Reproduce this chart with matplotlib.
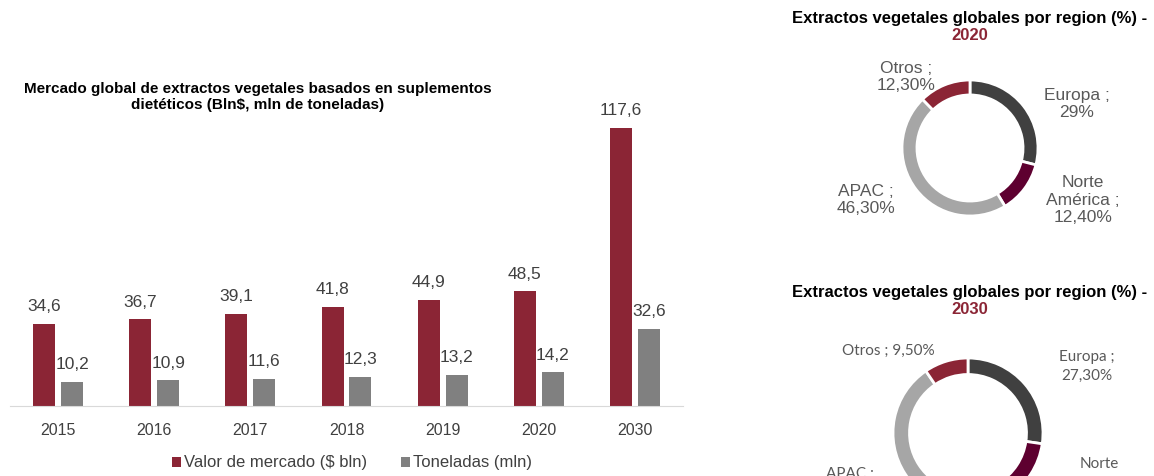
import numpy as np
import matplotlib
matplotlib.use("Agg")
from matplotlib import pyplot as plt

years = ["2015", "2016", "2017", "2018", "2019", "2020", "2030"]
valor = [34.6, 36.7, 39.1, 41.8, 44.9, 48.5, 117.6]
toneladas = [10.2, 10.9, 11.6, 12.3, 13.2, 14.2, 32.6]

regions = ["Europa", "Norte América", "APAC", "Otros"]
share_2020 = [29.0, 12.4, 46.3, 12.3]
share_2030 = [27.3, 13.9, 49.3, 9.5]

maroon = "#8B2535"
gray = "#808080"
ring_colors = ["#404040", "#5E0030", "#A6A6A6", "#8B2535"]
txt = "#404040"
lbl = "#595959"

W, H = 1154, 476
plt.rcParams["font.family"] = ["Liberation Sans", "DejaVu Sans"]

fig = plt.figure(figsize=(W / 100, H / 100), dpi=100)


def box(x0, y0, x1, y1):
    # pixel box (top-left origin) -> figure fraction rect
    return [x0 / W, 1 - y1 / H, (x1 - x0) / W, (y1 - y0) / H]


def pt(x, y):
    return x / W, 1 - y / H


# ---- bar chart
ax = fig.add_axes(box(10, 120, 683, 406))
x = np.arange(len(years))
w = 0.23
b1 = ax.bar(x - 0.145, valor, w, color=maroon, label="Valor de mercado ($ bln)")
b2 = ax.bar(x + 0.145, toneladas, w, color=gray, label="Toneladas (mln)")
for bars, vals in [(b1, valor), (b2, toneladas)]:
    for r, v in zip(bars, vals):
        ax.annotate(f"{v:.1f}".replace(".", ","), (r.get_x() + r.get_width() / 2, v),
                    xytext=(0, 7), textcoords="offset points", ha="center", va="bottom",
                    fontsize=12.5, color=txt)
ax.set_xlim(-0.5, len(years) - 0.5)
ax.set_ylim(0, 121)
ax.set_xticks(x)
ax.set_xticklabels(years, fontsize=11.5, color=txt)
ax.tick_params(axis="x", length=0, pad=12)
ax.set_yticks([])
for s in ["top", "right", "left"]:
    ax.spines[s].set_visible(False)
ax.spines["bottom"].set_color("#D9D9D9")
ax.legend(loc="center", bbox_to_anchor=pt(352, 463), bbox_transform=fig.transFigure,
          ncol=2, frameon=False, fontsize=12, handlelength=0.55, handleheight=0.55,
          handletextpad=0.2, columnspacing=2.0, labelcolor=txt)

fig.text(*pt(258, 97), "Mercado global de extractos vegetales basados en suplementos\n"
         "dietéticos (Bln$, mln de toneladas)", ha="center", va="center",
         fontsize=11, fontweight="bold", color="black", linespacing=1.15)


# ---- donuts
def donut(cx, cy, R, shares):
    a = fig.add_axes(box(cx - R, cy - R, cx + R, cy + R))
    a.pie(shares, colors=ring_colors, startangle=90, counterclock=False, radius=1,
          wedgeprops=dict(width=0.22, edgecolor="white", linewidth=2))
    a.set_xlim(-1, 1)
    a.set_ylim(-1, 1)
    a.set_aspect("equal")
    a.axis("off")


def pct(v):
    return f"{v:.2f}".replace(".", ",") + "%"


donut(970, 148, 68, share_2020)
fig.text(*pt(970, 18), "Extractos vegetales globales por region (%) -", ha="center", va="center",
         fontsize=12, fontweight="bold", color="black")
fig.text(*pt(970, 36), "2020", ha="center", va="center", fontsize=12, fontweight="bold", color=maroon)
fig.text(*pt(906, 77), "Otros ;\n12,30%", ha="center", va="center", fontsize=12.5, color=lbl)
fig.text(*pt(1077, 104), "Europa ;\n29%", ha="center", va="center", fontsize=12.5, color=lbl)
fig.text(*pt(1083, 200), "Norte\nAmérica ;\n12,40%", ha="center", va="center", fontsize=12.5, color=lbl)
fig.text(*pt(866, 200), "APAC ;\n46,30%", ha="center", va="center", fontsize=12.5, color=lbl)

donut(968, 433, 75, share_2030)
fig.text(*pt(970, 292), "Extractos vegetales globales por region (%) -", ha="center", va="center",
         fontsize=12, fontweight="bold", color="black")
fig.text(*pt(970, 310), "2030", ha="center", va="center", fontsize=12, fontweight="bold", color=maroon)
fig.text(*pt(888, 351), "Otros ; " + pct(share_2030[3]), ha="center", va="center",
         fontsize=11, color=lbl, family=["Lato", "DejaVu Sans"])
fig.text(*pt(1087, 366), "Europa ;\n" + pct(share_2030[0]), ha="center", va="center",
         fontsize=11, color=lbl, family=["Lato", "DejaVu Sans"], linespacing=1.45)
fig.text(*pt(1099, 457), "Norte\nAmérica ;\n" + pct(share_2030[1]), ha="center", va="top",
         fontsize=11, color=lbl, family=["Lato", "DejaVu Sans"], linespacing=1.45)
fig.text(*pt(850, 467), "APAC ;\n" + pct(share_2030[2]), ha="center", va="top",
         fontsize=11, color=lbl, family=["Lato", "DejaVu Sans"], linespacing=1.45)

fig.savefig("out.png", dpi=100)
